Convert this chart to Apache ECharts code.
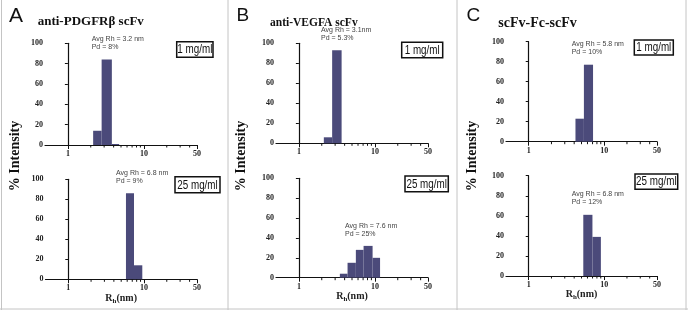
<!DOCTYPE html>
<html>
<head>
<meta charset="utf-8">
<script src="https://cdn.jsdelivr.net/npm/echarts@6/dist/echarts.min.js"></script>
<style>html,body{margin:0;background:#fff}#main{width:688px;height:310px}</style>
</head>
<body>
<div id="main"></div>
<script>
// DLS size distributions: bin edges (Rh, nm) and % intensity per bin
var edgesA1 = [2.15, 2.78, 3.79, 4.73], intA1 = [14, 84, 1];
var edgesA2 = [5.78, 7.38, 9.5], intA2 = [86, 14];
var edgesB1 = [2.13, 2.74, 3.65], intB1 = [6, 93];
var edgesB2 = [3.46, 4.37, 5.62, 7.1, 9.33, 11.7], intB2 = [4, 15, 28, 32, 20];
var edgesC1 = [4.16, 5.38, 7.11], intC1 = [23, 77];
var edgesC2 = [5.28, 6.98, 9.03], intC2 = [61, 39];

var panelLetters = ['A', 'B', 'C'];
var panelTitles = ['anti-PDGFRβ scFv', 'anti-VEGFA scFv', 'scFv-Fc-scFv'];
var concLabels = ['1 mg/ml', '25 mg/ml'];
var avgRh = ['Avg Rh = 3.2 nm', 'Avg Rh = 6.8 nm', 'Avg Rh = 3.1nm', 'Avg Rh = 7.6 nm', 'Avg Rh = 5.8 nm', 'Avg Rh = 6.8 nm'];
var pdText = ['Pd = 8%', 'Pd = 9%', 'Pd = 5.3%', 'Pd = 25%', 'Pd = 10%', 'Pd = 12%'];
var xMajor = [1, 10, 50];
var xMinor = [2, 3, 4, 5, 6, 7, 8, 9, 20, 30, 40];
var xMin = 0.5, xMax = 50;

var SERIF = 'Liberation Serif', SANS = 'Liberation Sans';
var barColor = '#4b4a7a';

var panels = [
  {edges: edgesA1, vals: intA1, grid: {left: 45, top: 43.3, width: 152, height: 101.7}},
  {edges: edgesA2, vals: intA2, grid: {left: 45.5, top: 179.3, width: 151.4, height: 100}},
  {edges: edgesB1, vals: intB1, grid: {left: 276, top: 43.3, width: 152, height: 100}},
  {edges: edgesB2, vals: intB2, grid: {left: 276, top: 178.3, width: 152, height: 99.4}},
  {edges: edgesC1, vals: intC1, grid: {left: 506, top: 41.7, width: 151, height: 100}},
  {edges: edgesC2, vals: intC2, grid: {left: 506, top: 175.7, width: 151, height: 100.3}}
];

var lg = function (v) { return Math.log10(v); };
var grids = [], xAxes = [], yAxes = [], series = [];

panels.forEach(function (p, i) {
  grids.push(p.grid);
  var bottom = i % 2 === 1;
  xAxes.push({
    type: 'value', gridIndex: i, position: 'bottom', min: lg(xMin), max: lg(xMax),
    axisLine: {lineStyle: {color: '#111', width: 1.2}},
    axisTick: {customValues: xMajor.map(lg), length: 4, lineStyle: {color: '#111'}},
    axisLabel: {customValues: xMajor.map(lg), margin: 5, color: '#222',
      fontFamily: SERIF, fontWeight: 'bold', fontSize: 8,
      formatter: function (v) { return Math.round(Math.pow(10, v)); }},
    splitLine: {show: false},
    name: bottom ? '{r|R}{s|h}{r|(nm)}' : '',
    nameLocation: 'middle', nameGap: 12,
    nameTextStyle: {rich: {
      r: {fontFamily: SERIF, fontWeight: 'bold', fontSize: 10, color: '#222'},
      s: {fontFamily: SERIF, fontWeight: 'bold', fontSize: 7, color: '#222', padding: [5, 0, 0, 0]}
    }}
  });
  yAxes.push({
    type: 'value', gridIndex: i, min: 0, max: 100, interval: 20,
    axisLine: {show: true, lineStyle: {color: '#111', width: 1.2}},
    axisTick: {show: true, length: 3, lineStyle: {color: '#111'}},
    axisLabel: {margin: 2, color: '#222', fontFamily: SERIF, fontWeight: 'bold', fontSize: 8},
    splitLine: {show: false}
  });
  var data = p.vals.map(function (v, k) { return [lg(p.edges[k]), lg(p.edges[k + 1]), v]; });
  series.push({
    type: 'custom', xAxisIndex: i, yAxisIndex: i, data: data,
    encode: {x: [0, 1], y: 2},
    renderItem: function (params, api) {
      var a = api.coord([api.value(0), api.value(2)]);
      var b = api.coord([api.value(1), 0]);
      return {type: 'rect', shape: {x: a[0], y: a[1], width: b[0] - a[0], height: b[1] - a[1]},
        style: {fill: barColor}};
    }
  });
  // short minor ticks of the log axis, placed through the axis scale
  series.push({
    type: 'custom', xAxisIndex: i, yAxisIndex: i, silent: true, clip: false,
    data: xMinor.map(function (v) { return [lg(v), 0]; }),
    encode: {x: 0, y: 1},
    renderItem: function (params, api) {
      var c = api.coord([api.value(0), 0]);
      return {type: 'line', shape: {x1: c[0], y1: c[1], x2: c[0], y2: c[1] + 2.5},
        style: {stroke: '#111', lineWidth: 1}};
    }
  });
});

// frame lines
var graphic = [];
[[1.5, 0, 1.5, 310], [686, 0, 686, 310], [0, 309, 688, 309], [228, 0, 228, 310], [457, 0, 457, 310]].forEach(function (l) {
  graphic.push({type: 'line', shape: {x1: l[0], y1: l[1], x2: l[2], y2: l[3]}, style: {stroke: '#c4c4c4', lineWidth: 1}});
});

var letterPos = [[9, 16, 21], [236.5, 16, 19], [466.5, 16, 19]];
var titlePos = [[37.7, 21.7, 13], [270, 22.7, 11.5], [498.3, 23.3, 14]];
var yNamePos = [[15, 156], [241.5, 156], [472, 156]];
panelLetters.forEach(function (t, k) {
  graphic.push({type: 'text', x: letterPos[k][0], y: letterPos[k][1],
    style: {text: t, fontFamily: SANS, fontSize: letterPos[k][2], fill: '#111', align: 'left', verticalAlign: 'middle'}});
  graphic.push({type: 'text', x: titlePos[k][0], y: titlePos[k][1],
    style: {text: panelTitles[k], fontFamily: SERIF, fontWeight: 'bold', fontSize: titlePos[k][2], fill: '#111', align: 'left', verticalAlign: 'middle'}});
  graphic.push({type: 'text', x: yNamePos[k][0], y: yNamePos[k][1], rotation: Math.PI / 2,
    style: {text: '% Intensity', fontFamily: SERIF, fontWeight: 'bold', fontSize: 14, fill: '#111', align: 'center', verticalAlign: 'middle'}});
});

var boxes = [
  [176.7, 41.7, 36.3, 15.6], [175, 176.7, 45, 16],
  [401.7, 42.3, 41, 15.4], [405, 176, 43.3, 15.7],
  [634.3, 40, 39, 15], [635, 174, 42.7, 15.3]
];
var notePos = [[91.7, 43], [116, 176.7], [321, 34], [345, 230], [571.7, 48.3], [571.7, 197.7]];
boxes.forEach(function (b, i) {
  graphic.push({type: 'rect', shape: {x: b[0], y: b[1], width: b[2], height: b[3]},
    style: {fill: '#fff', stroke: '#111', lineWidth: 1.5}});
  graphic.push({type: 'text', x: b[0] + b[2] / 2, y: b[1] + b[3] / 2 + 0.5, scaleX: 0.82,
    style: {text: concLabels[i % 2], fontFamily: SANS, fontSize: 12, fill: '#111', align: 'center', verticalAlign: 'middle'}});
  graphic.push({type: 'text', x: notePos[i][0], y: notePos[i][1],
    style: {text: avgRh[i] + '\n' + pdText[i], fontFamily: SANS, fontSize: 7, lineHeight: 8, fill: '#444', align: 'left', verticalAlign: 'middle'}});
});

var chart = echarts.init(document.getElementById('main'));
chart.setOption({
  animation: false,
  grid: grids,
  xAxis: xAxes,
  yAxis: yAxes,
  series: series,
  graphic: graphic
});
</script>
</body>
</html>
